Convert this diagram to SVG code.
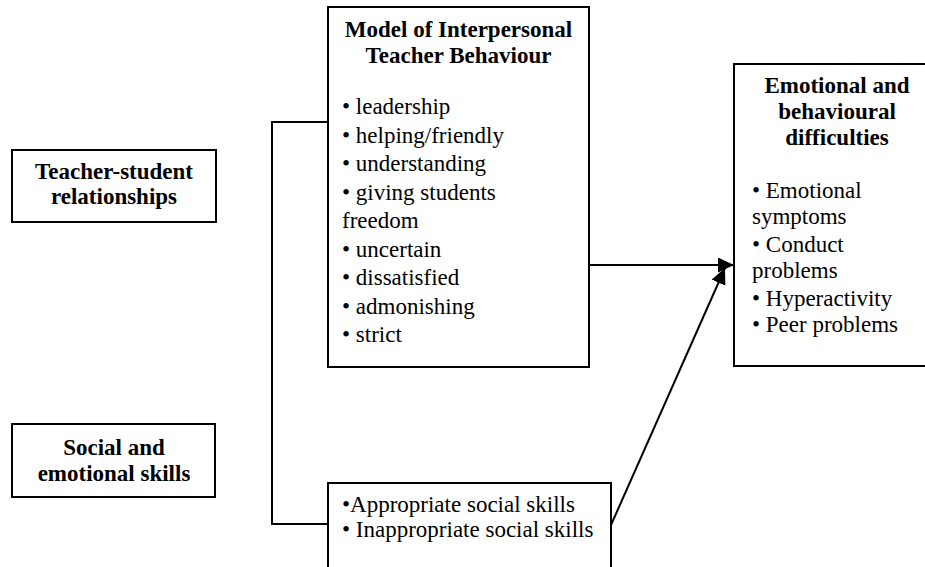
<svg xmlns="http://www.w3.org/2000/svg" width="925" height="567" viewBox="0 0 925 567">
<defs>
<style>
.box{fill:#fff;stroke:#000;stroke-width:2}
.t{font-family:"Liberation Serif","Times New Roman",serif;font-size:23px;fill:#000}
.b{font-weight:bold;text-anchor:middle}
.conn{fill:none;stroke:#000;stroke-width:2}
</style>
<marker id="arr" markerUnits="userSpaceOnUse" markerWidth="17" markerHeight="15" refX="16" refY="7.5" orient="auto">
<path d="M0,0 L16,7.5 L0,15 Z" fill="#000"/>
</marker>
</defs>
<rect width="925" height="567" fill="#fff"/>
<g id="connectors">
<polyline class="conn" points="328,122 272,122 272,524 328,524"/>
<line class="conn" x1="589" y1="265" x2="734" y2="265" marker-end="url(#arr)"/>
<line class="conn" x1="611" y1="525" x2="725" y2="268" marker-end="url(#arr)"/>
</g>
<g id="teacher-student">
<rect class="box" x="12" y="150" width="204" height="72"/>
<text class="t b" x="114" y="179">Teacher-student</text>
<text class="t b" x="114" y="204">relationships</text>
</g>
<g id="social-emotional">
<rect class="box" x="12" y="424" width="203" height="73"/>
<text class="t b" x="114" y="455">Social and</text>
<text class="t b" x="114" y="481">emotional skills</text>
</g>
<g id="model">
<rect class="box" x="328" y="7" width="261" height="360"/>
<text class="t b" x="458.5" y="37">Model of Interpersonal</text>
<text class="t b" x="458.5" y="63">Teacher Behaviour</text>
<text class="t" x="342" y="114">• leadership</text>
<text class="t" x="342" y="142.5">• helping/friendly</text>
<text class="t" x="342" y="171">• understanding</text>
<text class="t" x="342" y="199.5">• giving students</text>
<text class="t" x="342" y="228">freedom</text>
<text class="t" x="342" y="256.5">• uncertain</text>
<text class="t" x="342" y="285">• dissatisfied</text>
<text class="t" x="342" y="313.5">• admonishing</text>
<text class="t" x="342" y="342">• strict</text>
</g>
<g id="social-skills">
<rect class="box" x="328" y="483" width="283" height="100"/>
<text class="t" x="342" y="512">•Appropriate social skills</text>
<text class="t" x="342" y="537">• Inappropriate social skills</text>
</g>
<g id="difficulties">
<rect class="box" x="734" y="64" width="210" height="302"/>
<text class="t b" x="837" y="93">Emotional and</text>
<text class="t b" x="837" y="119">behavioural</text>
<text class="t b" x="837" y="145">difficulties</text>
<text class="t" x="752" y="198">• Emotional</text>
<text class="t" x="752" y="224">symptoms</text>
<text class="t" x="752" y="252">• Conduct</text>
<text class="t" x="752" y="278">problems</text>
<text class="t" x="752" y="306">• Hyperactivity</text>
<text class="t" x="752" y="332">• Peer problems</text>
</g>
</svg>
